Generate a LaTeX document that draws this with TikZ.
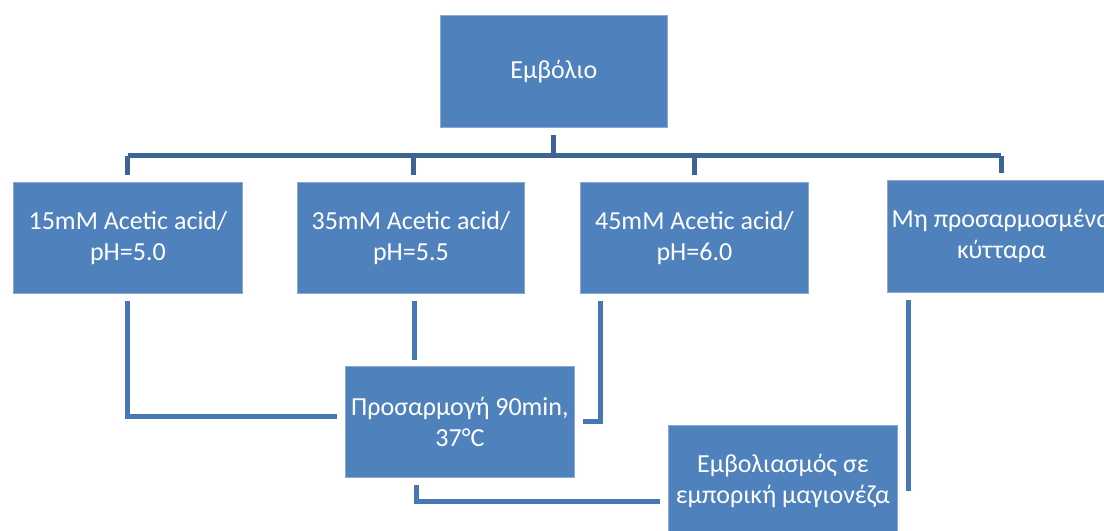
\documentclass[tikz,border=0pt]{standalone}
\usepackage{fontspec}
\setmainfont{Carlito}
\usetikzlibrary{calc}
\definecolor{boxfill}{HTML}{4F81BD}
\definecolor{boxline}{HTML}{8DA9D3}
\definecolor{treeline}{HTML}{3D6594}
\definecolor{lowline}{HTML}{4778B4}
\tikzset{
  box/.style={draw=boxline, line width=0.8bp, fill=boxfill, text=white,
    anchor=north west, inner sep=0pt, align=center,
    font=\fontsize{26bp}{31bp}\selectfont},
  treecon/.style={draw=treeline, line width=5bp},
  lowcon/.style={draw=lowline, line width=5bp}
}
\begin{document}
\begin{tikzpicture}[x=1bp,y=-1bp]
\clip (0,0) rectangle (1104,531);
\fill[white] (0,0) rectangle (1104,531);
\node[box, minimum width=227bp, minimum height=112bp] (top) at (440,15) {Εμβόλιο};
\node[box, minimum width=229bp, minimum height=111bp] (b1) at (13,182) {15mM Acetic acid/\\pH=5.0};
\node[box, minimum width=227bp, minimum height=111bp] (b2) at (297,182) {35mM Acetic acid/\\pH=5.5};
\node[box, minimum width=228bp, minimum height=111bp] (b3) at (580,182) {45mM Acetic acid/\\pH=6.0};
\node[box, minimum width=228bp, minimum height=112bp] (b4) at (887,180) {Μη προσαρμοσμένα\\κύτταρα};
\node[box, minimum width=229bp, minimum height=111bp] (b5) at (345,366) {Προσαρμογή 90min,\\37°C};
\node[box, minimum width=229bp, minimum height=112bp] (b6) at (668,425) {Εμβολιασμός σε\\εμπορική μαγιονέζα};
% top tree
\coordinate (h) at ($(top.south)+(0,28)$);
\draw[treecon] ($(top.south)+(0,7)$) -- (h);
\draw[treecon] (b1.north |- h) -- (b4.north |- h);
\draw[treecon] (b1.north |- h) -- ($(b1.north)+(0,-7)$);
\draw[treecon] ($(b2.north |- h)+(3,0)$) -- ($(b2.north)+(3,-7)$);
\draw[treecon] (b3.north |- h) -- ($(b3.north)+(0,-7)$);
\draw[treecon] (b4.north |- h) -- ($(b4.north)+(0,-7)$);
% lower connectors
\draw[lowcon] ($(b1.south)+(0,7)$) |- ($(b5.west)+(-8,-5)$);
\draw[lowcon] ($(b2.south)+(4,7)$) -- ($(b2.south |- b5.north)+(4,-6)$);
\draw[lowcon] ($(b3.south west)+(20,7)$) |- ($(b5.east)+(8,0)$);
\draw[lowcon] ($(b5.south west)+(71,7)$) |- ($(b6.west)+(-8,20)$);
\draw[lowcon] ($(b4.south west)+(21,7)$) |- ($(b6.east)+(8,7)$);
\end{tikzpicture}
\end{document}
